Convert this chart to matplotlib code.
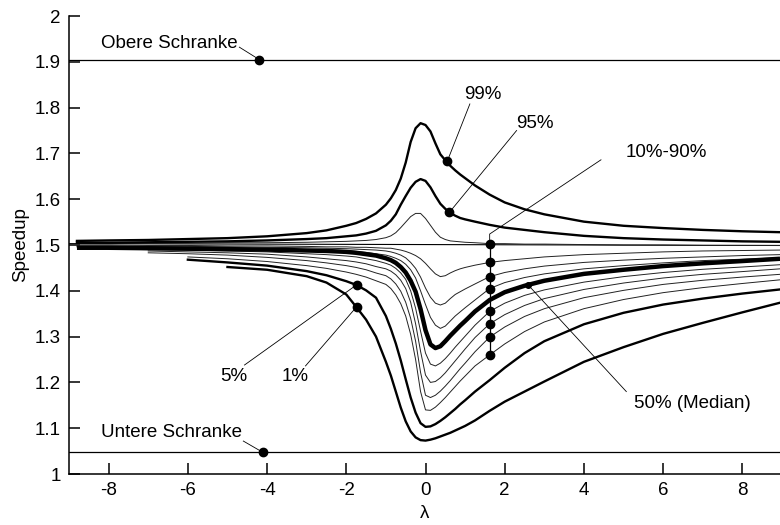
import numpy as np
import matplotlib
matplotlib.use("Agg")
import matplotlib.pyplot as plt

plt.rcParams['font.family'] = ['Liberation Sans', 'DejaVu Sans']
plt.rcParams['font.size'] = 13.5
plt.rcParams['axes.unicode_minus'] = False

nan = np.nan

############# data ####################################
lam = [-8.8, -8, -7, -6, -5, -4, -3, -2.5, -2, -1.75, -1.5, -1.25, -1, -0.875, -0.75, -0.625,
       -0.5, -0.375, -0.25, -0.125, 0, 0.125, 0.25, 0.375, 0.5, 0.625, 0.75, 0.875, 1, 1.25,
       1.62, 2, 2.5, 3, 4, 5, 6, 7, 8, 8.95]

q99 = [1.509, 1.510, 1.511, 1.513, 1.515, 1.519, 1.526, 1.532, 1.542, 1.548, 1.557, 1.569, 1.588, 1.602, 1.620, 1.645,
       1.680, 1.725, 1.755, 1.766, 1.762, 1.748, 1.722, 1.698, 1.685, 1.673, 1.663, 1.654, 1.646, 1.630,
       1.610, 1.593, 1.578, 1.567, 1.551, 1.542, 1.537, 1.533, 1.530, 1.528]
q95 = [1.505, 1.505, 1.506, 1.507, 1.508, 1.510, 1.513, 1.515, 1.519, 1.521, 1.525, 1.531, 1.543, 1.553, 1.567, 1.588,
       1.607, 1.625, 1.638, 1.644, 1.640, 1.626, 1.607, 1.590, 1.579, 1.570, 1.564, 1.559, 1.556, 1.551,
       1.544, 1.538, 1.533, 1.528, 1.520, 1.515, 1.512, 1.510, 1.508, 1.507]
q90 = [1.503, 1.503, 1.504, 1.504, 1.505, 1.505, 1.506, 1.507, 1.508, 1.509, 1.510, 1.512, 1.516, 1.520, 1.527, 1.538,
       1.550, 1.562, 1.569, 1.569, 1.558, 1.543, 1.528, 1.517, 1.512, 1.509, 1.508, 1.507, 1.506, 1.505,
       1.503, 1.503, 1.502, 1.502, 1.501, 1.500, 1.500, 1.499, 1.499, 1.499]
q80 = [1.500, 1.500, 1.499, 1.499, 1.498, 1.498, 1.497, 1.496, 1.496, 1.495, 1.495, 1.494, 1.493, 1.493, 1.491, 1.489,
       1.486, 1.482, 1.477, 1.470, 1.460, 1.448, 1.437, 1.431, 1.433, 1.439, 1.444, 1.448, 1.451, 1.456,
       1.462, 1.466, 1.470, 1.474, 1.479, 1.482, 1.485, 1.487, 1.488, 1.489]
q70 = [1.498, 1.498, 1.497, 1.497, 1.496, 1.495, 1.494, 1.493, 1.492, 1.491, 1.490, 1.489, 1.487, 1.485, 1.482, 1.478,
       1.472, 1.462, 1.449, 1.430, 1.406, 1.386, 1.373, 1.369, 1.373, 1.383, 1.392, 1.398, 1.404, 1.415,
       1.431, 1.440, 1.448, 1.454, 1.462, 1.467, 1.471, 1.474, 1.477, 1.479]
q60 = [1.496, 1.496, 1.495, 1.494, 1.493, 1.492, 1.490, 1.489, 1.488, 1.486, 1.484, 1.481, 1.478, 1.475, 1.471, 1.466,
       1.458, 1.446, 1.428, 1.400, 1.370, 1.342, 1.325, 1.318, 1.323, 1.334, 1.345, 1.354, 1.363, 1.380,
       1.405, 1.418, 1.429, 1.437, 1.448, 1.455, 1.461, 1.466, 1.469, 1.472]
q50 = [1.494, 1.494, 1.493, 1.492, 1.491, 1.490, 1.488, 1.487, 1.485, 1.483, 1.480, 1.477, 1.471, 1.467, 1.461, 1.452,
       1.440, 1.422, 1.398, 1.360, 1.314, 1.283, 1.275, 1.279, 1.290, 1.302, 1.313, 1.324, 1.334, 1.355,
       1.380, 1.397, 1.411, 1.422, 1.437, 1.446, 1.454, 1.460, 1.465, 1.470]
q40 = [nan, 1.491, 1.490, 1.489, 1.487, 1.485, 1.481, 1.479, 1.476, 1.474, 1.470, 1.466, 1.460, 1.456, 1.449, 1.439,
       1.425, 1.400, 1.362, 1.312, 1.264, 1.240, 1.236, 1.242, 1.252, 1.264, 1.277, 1.289, 1.301, 1.325,
       1.355, 1.373, 1.390, 1.402, 1.419, 1.431, 1.440, 1.447, 1.452, 1.457]
q30 = [nan, nan, 1.487, 1.485, 1.483, 1.480, 1.474, 1.470, 1.466, 1.463, 1.459, 1.453, 1.448, 1.443, 1.435, 1.423,
       1.405, 1.375, 1.328, 1.268, 1.216, 1.200, 1.202, 1.210, 1.221, 1.234, 1.247, 1.260, 1.273, 1.298,
       1.328, 1.348, 1.368, 1.383, 1.403, 1.417, 1.428, 1.436, 1.442, 1.448]
q20 = [nan, nan, 1.483, 1.481, 1.478, 1.473, 1.466, 1.461, 1.455, 1.451, 1.446, 1.439, 1.433, 1.426, 1.415, 1.399,
       1.375, 1.340, 1.290, 1.222, 1.172, 1.167, 1.172, 1.181, 1.192, 1.204, 1.217, 1.230, 1.242, 1.267,
       1.299, 1.321, 1.344, 1.361, 1.385, 1.401, 1.414, 1.423, 1.430, 1.436]
q10 = [nan, nan, nan, 1.474, 1.470, 1.464, 1.455, 1.449, 1.441, 1.436, 1.430, 1.422, 1.414, 1.405, 1.391, 1.372,
       1.345, 1.305, 1.250, 1.180, 1.140, 1.139, 1.146, 1.156, 1.167, 1.179, 1.191, 1.203, 1.214, 1.236,
       1.260, 1.284, 1.311, 1.332, 1.361, 1.381, 1.396, 1.407, 1.416, 1.424]
q05 = [nan, nan, nan, 1.468, 1.462, 1.455, 1.443, 1.434, 1.421, 1.413, 1.401, 1.385, 1.345, 1.317, 1.285, 1.248,
       1.207, 1.167, 1.134, 1.111, 1.103, 1.104, 1.109, 1.116, 1.124, 1.133, 1.142, 1.152, 1.161, 1.180,
       1.205, 1.232, 1.264, 1.290, 1.327, 1.352, 1.370, 1.383, 1.394, 1.403]
q01 = [nan, nan, nan, nan, 1.452, 1.446, 1.432, 1.418, 1.392, 1.365, 1.337, 1.300, 1.245, 1.215, 1.180, 1.145,
       1.115, 1.093, 1.080, 1.074, 1.073, 1.075, 1.078, 1.082, 1.086, 1.090, 1.095, 1.100, 1.105, 1.117,
       1.138, 1.158, 1.180, 1.202, 1.245, 1.277, 1.306, 1.330, 1.353, 1.374]

ref_x = [-9, 8.95]
ref_y = [1.503, 1.499]

obere = 1.905
untere = 1.047

thin_curves = [q90, q80, q70, q60, q40, q30, q20, q10]
thick_curves = [q99, q95, q05, q01]

# marker positions on the vertical line
lam_dots = 1.62
dots_y = [1.503, 1.462, 1.431, 1.405, 1.355, 1.328, 1.299, 1.260]

############# plot ###############
fig = plt.figure(figsize=(7.8, 5.25), dpi=100)
ax = fig.add_axes([0.0885, 0.0971, 0.9115, 0.8724])

ax.axhline(obere, color='k', lw=0.9)
ax.axhline(untere, color='k', lw=0.9)
ax.plot(ref_x, ref_y, color='k', lw=0.8)

for q in thin_curves:
    ax.plot(lam, q, color='#222222', lw=0.7)
for q in thick_curves:
    ax.plot(lam, q, color='k', lw=1.7)
ax.plot(lam, q50, color='k', lw=3.2, solid_capstyle='butt')

# vertical line through 10%..90%
ax.plot([lam_dots, lam_dots], [dots_y[0], dots_y[-1]], color='k', lw=0.9)
ax.plot([lam_dots] * len(dots_y), dots_y, 'o', color='k', ms=6)

ms = 6
# boundaries
ax.plot(-4.2, obere, 'o', color='k', ms=ms)
ax.plot([-4.2 - 0.5, -4.2], [obere + 0.027, obere], color='k', lw=0.6)
ax.text(-8.2, 1.94, 'Obere Schranke', va='center', ha='left')
ax.plot(-4.1, untere, 'o', color='k', ms=ms)
ax.plot([-4.1 - 0.5, -4.1], [untere + 0.025, untere], color='k', lw=0.6)
ax.text(-8.2, 1.0915, 'Untere Schranke', va='center', ha='left')

# 99 %
ax.plot(0.55, 1.683, 'o', color='k', ms=ms)
ax.plot([0.55, 1.12], [1.683, 1.808], color='k', lw=0.6)
ax.text(1.44, 1.828, '99%', ha='center', va='center')
# 95 %
ax.plot(0.6, 1.571, 'o', color='k', ms=ms)
ax.plot([0.6, 2.3], [1.571, 1.75], color='k', lw=0.6)
ax.text(2.76, 1.766, '95%', ha='center', va='center')
# 10 % - 90 %
ax.plot([lam_dots, lam_dots, 4.43], [dots_y[0], 1.524, 1.686], color='k', lw=0.6)
ax.text(6.07, 1.701, '10%-90%', ha='center', va='center')
# 5 %, 1 %
ax.plot(-1.74, 1.413, 'o', color='k', ms=ms)
ax.plot([-1.74, -4.57], [1.413, 1.238], color='k', lw=0.6)
ax.text(-4.83, 1.213, '5%', ha='center', va='center')
ax.plot(-1.74, 1.365, 'o', color='k', ms=ms)
ax.plot([-1.74, -3.03], [1.365, 1.236], color='k', lw=0.6)
ax.text(-3.3, 1.213, '1%', ha='center', va='center')
# median
ax.plot(2.59, 1.413, 'o', color='k', ms=4)
ax.plot([2.59, 5.07], [1.413, 1.18], color='k', lw=0.6)
ax.text(6.73, 1.155, '50% (Median)', ha='center', va='center')

ax.set_xlim(-9.0, 8.95)
ax.set_ylim(1, 2)
ax.set_xticks([-8, -6, -4, -2, 0, 2, 4, 6, 8])
ax.set_yticks([1, 1.1, 1.2, 1.3, 1.4, 1.5, 1.6, 1.7, 1.8, 1.9, 2])
ax.set_yticklabels(['1', '1.1', '1.2', '1.3', '1.4', '1.5', '1.6', '1.7', '1.8', '1.9', '2'])
ax.spines['top'].set_visible(False)
ax.spines['right'].set_visible(False)
ax.spines['left'].set_linewidth(1.1)
ax.spines['bottom'].set_linewidth(1.1)
ax.tick_params(direction='in', length=8, width=1.1, pad=6)
ax.set_xlabel('λ', labelpad=4)
ax.set_ylabel('Speedup', labelpad=4)

plt.savefig('out.png', dpi=100)
